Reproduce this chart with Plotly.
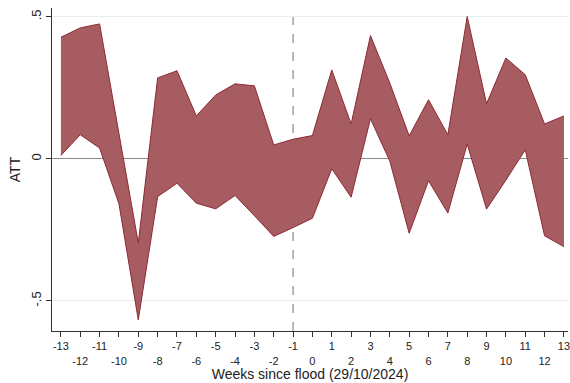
import plotly.graph_objects as go

weeks = list(range(-13, 14))
upper = [0.428, 0.461, 0.475, 0.09, -0.296, 0.285, 0.31, 0.151, 0.225, 0.264, 0.257, 0.049, 0.069,
         0.082, 0.313, 0.123, 0.434, 0.267, 0.081, 0.208, 0.085, 0.501, 0.194, 0.355, 0.296, 0.123, 0.151]
lower = [0.012, 0.085, 0.038, -0.158, -0.567, -0.133, -0.086, -0.156, -0.176, -0.129, -0.2, -0.273, -0.242,
         -0.209, -0.035, -0.135, 0.141, -0.008, -0.262, -0.077, -0.191, 0.052, -0.177, -0.075, 0.032, -0.271, -0.309]
tick_vals = weeks
tick_text = [str(w) if w % 2 != 0 else "<br>" + str(w) for w in weeks]
y_ticks = [-0.5, 0, 0.5]
y_text = ["-.5", "0", ".5"]
event_week = -1

fill_col = "rgb(166,92,97)"
line_col = "rgb(140,42,52)"

fig = go.Figure()
fig.add_trace(go.Scatter(x=weeks, y=lower, mode="lines", line=dict(color=line_col, width=1),
                         showlegend=False, hoverinfo="skip"))
fig.add_trace(go.Scatter(x=weeks, y=upper, mode="lines", line=dict(color=line_col, width=1),
                         fill="tonexty", fillcolor=fill_col, showlegend=False, hoverinfo="skip"))

fig.add_shape(type="line", xref="x", yref="paper", x0=event_week, x1=event_week, y0=0, y1=1,
              line=dict(color="#8a8a8a", width=1.2, dash="dash"), layer="below")

font = dict(family="Liberation Sans, Arial, sans-serif", size=11, color="#222")
fig.update_layout(
    width=570, height=383,
    margin=dict(l=52, r=0, t=8, b=52),
    paper_bgcolor="white", plot_bgcolor="white",
    font=font,
    xaxis=dict(range=[-13.46, 13.21], tickmode="array", tickvals=tick_vals, ticktext=tick_text,
               showline=True, linecolor="#333", linewidth=1, ticks="outside", ticklen=5,
               tickcolor="#333", showgrid=False, zeroline=False, tickangle=0,
               ticklabeloverflow="allow",
               title=dict(text="Weeks since flood (29/10/2024)", font=dict(size=14), standoff=3),
               tickfont=dict(size=11)),
    yaxis=dict(range=[-0.606, 0.531], tickmode="array", tickvals=y_ticks, ticktext=y_text,
               showline=True, linecolor="#333", linewidth=1, ticks="outside", ticklen=5,
               tickcolor="#333", showgrid=True, gridcolor="#e6eeef", gridwidth=1,
               zeroline=True, zerolinecolor="#8a8a8a", zerolinewidth=1.2,
               tickangle=-90, tickfont=dict(size=13),
               title=dict(text="ATT", font=dict(size=14), standoff=4)),
)

fig.write_html("out.html")
